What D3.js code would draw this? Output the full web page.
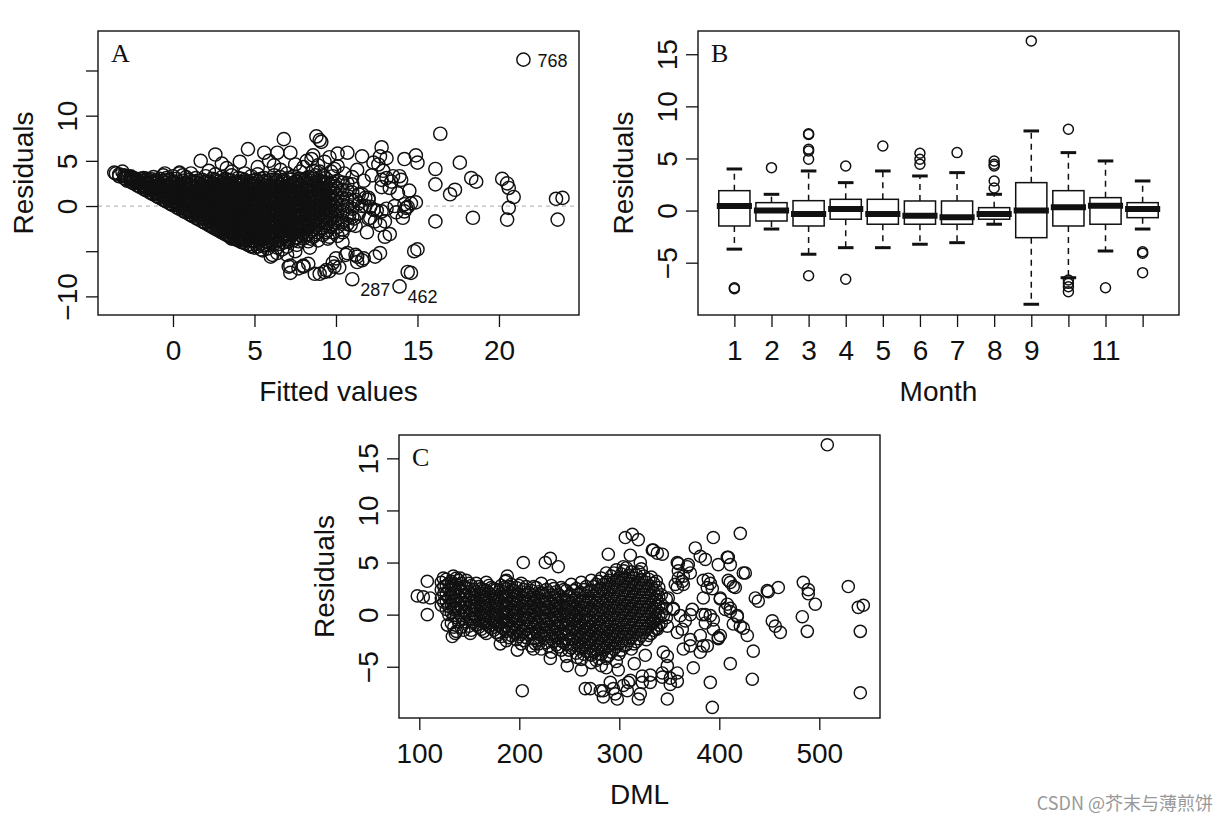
<!DOCTYPE html>
<html><head><meta charset="utf-8">
<script src="https://cdn.jsdelivr.net/npm/d3@7"></script>
<style>body{margin:0;background:#fff;} svg{display:block;}</style>
</head><body>
<svg id="chart" width="1228" height="824"></svg>
<script>
// ---------------- DATA ----------------
// Panel A: fitted values vs residuals. Dense core given as columns [fitted, [residuals]]
const blobA = [
[-3.5,[3.6]],[-3.3,[3.3,3.5]],[-3.0,[3.1,3.4]],[-2.8,[2.8,3.2]],[-2.6,[2.7,3.0,3.3]],
[-2.4,[2.5,2.8,3.1]],[-2.2,[2.3,2.6,2.9]],[-2.0,[2.1,2.5,3.0]],[-1.8,[1.9,2.3,2.7,3.1]],
[-1.6,[1.7,2.0,2.6,3.0]],[-1.4,[1.5,1.9,2.3,2.8]],[-1.2,[1.3,1.7,2.2,2.7,3.2]],
[-1.0,[1.1,1.5,2.0,2.5,2.9]],[-0.8,[0.9,1.3,1.8,2.4,3.0]],[-0.6,[0.7,1.1,1.6,2.2,2.7,3.4]],
[-0.4,[0.5,0.9,1.4,2.0,2.6,3.1]],[-0.2,[0.3,0.8,1.3,1.7,2.3,2.9]],[0.0,[0.1,0.5,1.0,1.6,2.1,2.7,3.3]],
[0.2,[-0.1,0.4,0.9,1.4,2.0,2.5,3.0]],[0.4,[-0.3,0.2,0.7,1.2,1.8,2.4,3.6]],[0.6,[-0.5,0.0,0.5,1.1,1.6,2.2,2.8]],
[0.8,[-0.7,-0.2,0.3,0.9,1.5,2.0,2.6,3.2]],[1.0,[-0.9,-0.4,0.1,0.6,1.2,1.8,2.4,2.9]],
[1.2,[-1.1,-0.6,-0.1,0.4,1.0,1.6,2.2,2.7]],[1.4,[-1.3,-0.8,-0.3,0.3,0.9,1.4,2.0,2.6,3.1]],
[1.6,[-1.5,-1.0,-0.5,0.1,0.7,1.3,1.9,2.5]],[1.8,[-1.7,-1.2,-0.6,-0.1,0.5,1.1,1.7,2.3,2.9]],
[2.0,[-1.9,-1.4,-0.9,-0.3,0.3,0.9,1.5,2.1,2.7,3.3]],[2.2,[-2.1,-1.6,-1.0,-0.5,0.1,0.7,1.3,1.9,2.5]],
[2.4,[-2.3,-1.8,-1.2,-0.6,0.0,0.6,1.2,1.8,2.4,3.0]],[2.6,[-2.5,-2.0,-1.4,-0.8,-0.2,0.4,1.0,1.6,2.3,2.9,3.5]],
[2.8,[-2.7,-2.2,-1.6,-1.0,-0.4,0.3,0.9,1.5,2.1,2.7]],[3.0,[-2.9,-2.3,-1.7,-1.1,-0.5,0.1,0.7,1.4,2.0,2.6,3.2]],
[3.2,[-3.1,-2.5,-1.9,-1.3,-0.7,-0.1,0.5,1.2,1.8,2.4,3.0]],[3.4,[-3.3,-2.7,-2.1,-1.5,-0.9,-0.3,0.4,1.0,1.6,2.3,2.9]],
[3.6,[-3.5,-2.9,-2.2,-1.6,-1.0,-0.4,0.2,0.8,1.5,2.1,2.8,3.4]],[3.8,[-3.6,-3.0,-2.4,-1.8,-1.2,-0.6,0.1,0.7,1.3,2.0,2.6]],
[4.0,[-3.8,-3.2,-2.6,-2.0,-1.3,-0.7,-0.1,0.5,1.2,1.8,2.5,3.1]],[4.2,[-4.0,-3.3,-2.7,-2.1,-1.5,-0.9,-0.2,0.4,1.0,1.7,2.3,3.0]],
[4.4,[-4.1,-3.5,-2.9,-2.2,-1.6,-1.0,-0.4,0.3,0.9,1.5,2.2,2.9,3.6]],[4.6,[-4.3,-3.6,-3.0,-2.4,-1.7,-1.1,-0.5,0.1,0.8,1.4,2.0,2.7]],
[4.8,[-4.4,-3.8,-3.1,-2.5,-1.9,-1.2,-0.6,0.0,0.6,1.3,1.9,2.6,3.3]],[5.0,[-4.6,-3.9,-3.3,-2.6,-2.0,-1.4,-0.7,-0.1,0.5,1.2,1.8,2.5]],
[5.2,[-4.5,-3.8,-3.2,-2.5,-1.9,-1.3,-0.6,0.0,0.7,1.3,2.0,2.7,3.5]],[5.4,[-4.8,-4.1,-3.4,-2.8,-2.1,-1.5,-0.8,-0.2,0.4,1.1,1.7,2.4,3.0]],
[5.6,[-4.3,-3.6,-2.9,-2.3,-1.6,-0.9,-0.3,0.3,1.0,1.6,2.3,3.1]],[5.8,[-4.7,-4.0,-3.3,-2.6,-2.0,-1.3,-0.7,0.0,0.6,1.3,1.9,2.6]],
[6.0,[-3.8,-3.1,-2.4,-1.8,-1.1,-0.4,0.2,0.9,1.5,2.2,2.9]],[6.2,[-4.2,-3.5,-2.8,-2.2,-1.5,-0.8,-0.2,0.5,1.2,1.8,2.5,3.4]],
[6.4,[-4.6,-3.9,-3.2,-2.5,-1.9,-1.2,-0.5,0.1,0.8,1.4,2.1,2.8]],[6.6,[-3.7,-3.0,-2.3,-1.6,-0.9,-0.3,0.4,1.0,1.7,2.4,3.2,4.0]],
[6.8,[-4.0,-3.3,-2.6,-1.9,-1.2,-0.5,0.2,0.8,1.5,2.2,2.9]],[7.0,[-4.5,-3.7,-3.0,-2.3,-1.6,-0.9,-0.2,0.5,1.1,1.8,2.5,3.6]],
[7.2,[-3.4,-2.7,-2.0,-1.3,-0.6,0.1,0.8,1.4,2.1,2.9]],[7.4,[-3.8,-3.1,-2.4,-1.7,-1.0,-0.3,0.3,1.0,1.7,2.4,3.3]],
[7.6,[-4.3,-3.5,-2.8,-2.1,-1.4,-0.7,0.0,0.7,1.3,2.0,2.7]],[7.8,[-3.2,-2.5,-1.8,-1.1,-0.4,0.3,1.0,1.6,2.3,3.0,3.8]],
[8.0,[-3.6,-2.9,-2.2,-1.5,-0.8,-0.1,0.6,1.2,1.9,2.6]],[8.3,[-3.9,-3.1,-2.4,-1.6,-0.9,-0.2,0.5,1.1,1.8,2.5,3.2]],
[8.6,[-3.4,-2.6,-1.9,-1.1,-0.4,0.3,1.0,1.7,2.3,3.0,3.9]],[8.9,[-3.8,-2.9,-2.1,-1.3,-0.6,0.1,0.8,1.5,2.2,2.9]],
[9.2,[-3.2,-2.4,-1.6,-0.8,-0.1,0.6,1.3,2.0,2.7,3.4]],[9.5,[-3.6,-2.7,-1.9,-1.0,-0.3,0.4,1.1,1.9,2.6]],
[9.8,[-2.9,-2.1,-1.3,-0.5,0.2,0.9,1.7,2.5,3.3]],[10.1,[-3.3,-2.3,-1.4,-0.6,0.3,1.1,1.9,2.8]],
[10.4,[-2.6,-1.6,-0.7,0.1,0.9,1.8,2.6]],[10.7,[-2.0,-0.9,0.0,0.8,1.7,2.5]],
[11.0,[-1.2,-0.3,0.6,1.5,2.4]],[11.4,[-0.8,0.3,1.3]],[11.8,[0.0,0.9]]
];
// Panel A: second layer of the dense core (points lying between the first layer)
const blobA2 = [
[-2.9,[3.0,3.3]],[-2.5,[2.6,2.95]],[-2.1,[2.2,2.7]],[-1.7,[1.8,2.2,2.5,2.85]],
[-1.3,[1.4,1.8,2.1,2.5,2.95]],[-0.9,[1.0,1.4,1.7,2.2,2.7]],[-0.5,[0.6,1.0,1.2,1.7,2.3,2.85]],
[-0.1,[0.2,0.6,1.1,1.5,1.9,2.5]],[0.3,[-0.2,0.1,0.5,1.0,1.5,2.1,2.7]],[0.7,[-0.6,-0.3,0.2,0.8,1.3,1.9,2.5]],
[1.1,[-1.0,-0.6,-0.2,0.3,0.8,1.4,2.0,2.6]],[1.5,[-1.4,-1.0,-0.6,-0.1,0.5,1.1,1.6,2.2,2.8]],
[1.9,[-1.8,-1.3,-0.8,-0.4,0.1,0.7,1.3,1.9,2.5]],[2.3,[-2.2,-1.7,-1.3,-0.8,-0.3,0.3,0.9,1.5,2.1,2.7]],
[2.5,[-2.4,-1.5,-0.3,0.8,1.9]],[2.7,[-2.6,-2.1,-1.7,-1.2,-0.6,-0.1,0.5,1.2,1.8,2.4]],
[2.9,[-2.8,-1.9,-0.7,0.5,1.7]],[3.1,[-3.0,-2.6,-2.0,-1.5,-0.9,-0.3,0.3,1.0,1.6,2.2,2.8]],
[3.3,[-3.2,-2.3,-1.1,0.1,1.4]],[3.5,[-3.4,-2.8,-2.4,-1.8,-1.3,-0.7,-0.1,0.6,1.2,1.9,2.5]],
[3.7,[-3.3,-2.0,-0.8,0.4,1.7]],[3.9,[-3.7,-3.3,-2.7,-2.1,-1.5,-0.9,-0.3,0.3,1.0,1.6,2.3]],
[4.1,[-3.5,-2.3,-1.1,0.2,1.5,2.7]],[4.3,[-4.0,-3.7,-3.1,-2.5,-1.9,-1.3,-0.6,0.0,0.7,1.3,2.0,2.6]],
[4.5,[-3.8,-2.6,-1.4,-0.2,1.1,2.4]],[4.7,[-4.2,-3.4,-2.8,-2.2,-1.5,-0.9,-0.3,0.4,1.0,1.7,2.3]],
[4.9,[-3.5,-2.3,-1.0,0.3,1.5,2.8]],[5.1,[-4.2,-3.6,-2.9,-2.3,-1.7,-1.0,-0.4,0.2,0.9,1.5,2.2,2.9]],
[5.3,[-3.9,-2.6,-1.2,0.1,1.5]],[5.5,[-4.4,-3.7,-3.1,-2.4,-1.8,-1.2,-0.5,0.1,0.7,1.4,2.0,2.7]],
[5.7,[-3.9,-2.6,-1.3,0.1,1.4,2.8]],[5.9,[-4.3,-3.5,-2.9,-2.2,-1.6,-0.9,-0.3,0.3,1.0,1.6,2.3]],
[6.1,[-3.4,-2.1,-0.8,0.5,1.8]],[6.3,[-3.8,-3.1,-2.4,-1.7,-1.1,-0.4,0.3,0.9,1.6,2.2,2.9]],
[6.5,[-4.2,-2.9,-1.5,-0.2,1.1,2.4]],[6.7,[-3.5,-2.8,-2.1,-1.4,-0.7,0.0,0.6,1.3,2.0,2.7]],
[6.9,[-3.3,-1.9,-0.6,0.7,2.0]],[7.1,[-3.9,-3.2,-2.5,-1.8,-1.1,-0.4,0.3,0.9,1.6,2.3,3.1]],
[7.3,[-3.0,-1.6,-0.2,1.1,2.5]],[7.5,[-3.5,-2.8,-2.1,-1.4,-0.7,0.0,0.7,1.3,2.0,2.7]],
[7.7,[-3.9,-2.5,-1.1,0.3,1.6,3.0]],[7.9,[-3.3,-2.6,-1.9,-1.2,-0.5,0.2,0.9,1.5,2.2,2.9]],
[8.15,[-3.2,-2.5,-1.8,-1.1,-0.4,0.3,1.0,1.6,2.3,3.0]],[8.45,[-3.6,-2.8,-2.1,-1.4,-0.7,0.0,0.7,1.4,2.1,2.8]],
[8.75,[-3.1,-2.3,-1.6,-0.9,-0.2,0.5,1.2,1.9,2.6,3.4]],[9.05,[-2.6,-1.8,-1.0,-0.3,0.4,1.1,1.8,2.5]],
[9.35,[-2.9,-2.1,-1.3,-0.5,0.3,1.0,1.7,2.4,3.1]],[9.65,[-2.3,-1.5,-0.7,0.1,0.8,1.5,2.3]],
[9.95,[-1.8,-1.0,-0.2,0.6,1.4,2.2]]
];
// Panel A: scattered points [fitted, residual]
const outerA = [
[21.5,16.2],[16.4,8.0],[17.6,4.8],[18.3,3.1],[18.6,2.7],[20.2,3.0],[20.5,2.5],[20.6,2.0],[20.9,1.0],
[20.6,-0.2],[20.5,-1.5],[18.4,-1.3],[16.1,-1.7],[16.1,2.4],[16.1,4.1],[17.0,1.3],[17.3,1.8],
[23.5,0.8],[23.9,0.9],[23.6,-1.5],[15.0,-4.8],[14.6,-7.4],[13.9,-8.9],[11.0,-8.1],[12.7,-5.2],
[13.3,-3.1],[13.0,-1.7],[14.1,-1.3],[14.2,-0.6],[14.4,-0.1],[14.6,0.3],[14.9,0.4],[14.5,1.7],
[14.0,2.9],[13.9,3.3],[14.2,5.2],[14.9,5.6],[15.0,4.8],[12.8,6.5],[12.7,5.5],[13.1,5.3],[12.3,4.8],
[12.6,4.6],[12.9,3.9],[12.8,2.1],[13.5,3.3],[13.3,2.0],[12.1,-0.1],[12.3,-0.4],[12.5,-0.5],[13.1,-0.3],
[11.6,5.5],[10.7,5.9],[10.1,5.8],[9.6,5.4],[9.3,4.9],[9.0,3.8],[8.8,7.7],[9.0,7.3],[9.1,7.1],
[6.8,7.4],[8.2,5.0],[8.5,5.2],[8.6,5.6],[7.2,5.9],[6.4,5.9],[5.6,5.9],[4.6,6.3],[2.6,5.7],[1.7,5.0],
[3.0,4.7],[3.6,3.8],[-0.5,3.6],[0.4,3.7],[0.6,3.4],[-3.6,3.7],[-3.1,3.8],[-2.6,3.2],[-1.8,3.0],[-0.9,2.7],
[10.0,-5.8],[9.9,-6.7],[9.3,-7.3],[9.0,-7.5],[9.6,-7.2],[8.3,-6.4],[8.0,-6.6],[7.7,-6.9],[7.2,-6.6],
[11.3,-6.2],[11.7,-5.8],[11.2,-5.4],[10.6,-5.4],[6.1,-5.4],[6.4,-5.2],[7.0,-5.4],[10.4,-4.0],
[9.6,-3.4],[10.9,-2.1],[11.1,-1.4],[10.4,-1.8],[12.1,-1.3],[12.4,-1.7],[11.9,-2.9],
[3.6,-3.6],[4.8,-4.5],[6.0,-5.6],[7.1,-6.7],[7.2,-7.4],[5.5,-4.9],[6.7,-4.8],[7.5,-5.0],[8.4,-4.6],
[12.8,2.9],[13.1,3.1],[13.4,2.7],[13.8,1.4],[13.6,0.0],[13.7,-0.7],[14.2,0.2],[14.3,-0.2],
[11.6,1.3],[12.0,0.9],[12.8,-0.6],[12.7,-2.1],[13.0,-3.4],[12.4,-5.6],[14.8,-5.0],[14.4,-7.3],
[10.7,-5.2],[11.3,-5.6],[11.6,-6.0],[9.8,-6.3],[9.4,-7.1],[10.2,-6.8],[8.7,-7.5],[8.0,-6.7],
[11.2,0.7],[11.6,0.0],[12.0,0.7],[10.8,-1.1],[11.2,-2.2],[10.4,-2.9],[12.0,-1.4],
[10.1,4.4],[10.5,3.6],[11.0,3.2],[11.3,4.0],[9.9,4.1],[8.0,4.3],[7.5,4.6],[6.2,4.5],[5.2,4.3],
[4.1,4.9],[3.3,4.2],[2.2,3.9],[1.1,3.6],[5.9,5.0],[8.9,4.5],[9.7,3.8],[11.7,2.8],[12.2,3.4]
];
const labelIdsA = ["768","287","462"];
const labelPtsA = [[21.5,16.2],[11.0,-8.1],[13.9,-8.9]];
const fittedTicks = [0,5,10,15,20];
const residTicksA = [-10,-5,0,5,10,15];
const residLabelsA = ["\u221210","","0","5","10",""];

// Panel B: monthly boxplot statistics
const months = [1,2,3,4,5,6,7,8,9,10,11,12];
const monthLabels = ["1","2","3","4","5","6","7","8","9","","11",""];
const whiskLo = [-3.7,-1.77,-4.19,-3.56,-3.56,-3.23,-3.08,-1.31,-8.99,-6.44,-3.88,-1.77];
const q1 = [-1.48,-1.0,-1.48,-0.83,-1.31,-1.31,-1.31,-0.83,-2.6,-1.48,-1.31,-0.68];
const med = [0.44,0.0,-0.33,0.15,-0.33,-0.49,-0.64,-0.33,0.0,0.32,0.47,0.15];
const q3 = [1.91,0.76,0.95,1.08,1.08,0.92,0.92,0.28,2.68,1.91,1.24,0.76];
const whiskHi = [3.99,1.56,3.8,2.68,3.8,3.32,3.64,1.56,7.64,5.56,4.76,2.84];
const outliersB = [[1,-7.4],[1,-7.5],[2,4.12],[3,7.3],[3,7.36],[3,5.88],[3,5.72],[3,4.92],[3,-6.25],
[4,4.28],[4,-6.59],[5,6.2],[6,5.5],[6,4.92],[6,4.44],[7,5.56],[8,4.76],[8,4.45],[8,4.28],[8,2.84],[8,2.17],
[9,16.28],[10,7.8],[10,-6.66],[10,-6.98],[10,-7.3],[10,-7.78],[11,-7.4],[12,-3.95],[12,-4.1],[12,-5.96]];
const residTicksB = [-5,0,5,10,15];
const residLabelsB = ["\u22125","0","5","10","15"];

// Panel C: DML vs residuals. Dense core columns [DML, [residuals]]
const blobC = [
[122,[0.9,1.6,2.4,3.1]],[127,[0.5,1.3,2.0,2.8,3.4]],[132,[-0.8,0.2,1.0,1.7,2.5,3.2]],
[137,[-1.6,-0.3,0.6,1.4,2.2,2.9,3.5]],[142,[-1.2,-0.1,0.7,1.5,2.3,3.0]],[147,[-0.7,0.2,1.0,1.8,2.6,3.3]],
[152,[-1.5,-0.4,0.4,1.2,2.0,2.8]],[157,[-1.0,-0.2,0.6,1.4,2.2,3.0]],[162,[-1.4,-0.6,0.2,1.0,1.8,2.5]],
[167,[-1.8,-0.9,-0.1,0.7,1.5,2.3,3.1]],[172,[-1.3,-0.5,0.3,1.1,1.9,2.6]],[177,[-1.7,-0.8,0.0,0.8,1.6,2.4]],
[182,[-2.1,-1.2,-0.4,0.4,1.2,2.0,2.8]],[187,[-2.5,-1.6,-0.7,0.1,0.9,1.7,2.5,3.3]],
[192,[-2.0,-1.1,-0.3,0.5,1.3,2.1,2.9]],[197,[-2.4,-1.5,-0.6,0.2,1.0,1.8,2.6]],
[202,[-2.8,-1.9,-1.0,-0.2,0.6,1.4,2.2,3.0]],[207,[-2.2,-1.4,-0.5,0.3,1.1,1.9,2.7]],
[212,[-3.0,-1.8,-0.9,-0.1,0.7,1.5,2.3]],[217,[-2.5,-1.6,-0.7,0.1,0.9,1.7,2.6]],
[222,[-3.3,-2.0,-1.2,-0.3,0.5,1.3,2.1,3.0]],[227,[-2.7,-1.8,-0.9,-0.1,0.7,1.5,2.4]],
[232,[-3.6,-2.3,-1.4,-0.5,0.3,1.1,1.9,2.8]],[237,[-2.9,-2.0,-1.1,-0.2,0.6,1.4,2.2]],
[242,[-3.4,-2.5,-1.6,-0.7,0.1,0.9,1.7,2.6]],[247,[-4.0,-2.8,-1.9,-1.0,-0.2,0.6,1.4,2.3]],
[252,[-3.2,-2.3,-1.4,-0.5,0.3,1.1,1.9,2.9]],[257,[-3.7,-2.7,-1.8,-0.9,-0.1,0.7,1.6,2.5]],
[262,[-4.3,-3.1,-2.2,-1.3,-0.4,0.4,1.2,2.1,3.1]],[267,[-3.5,-2.6,-1.7,-0.8,0.0,0.9,1.8,2.7]],
[272,[-4.6,-3.9,-3.0,-2.1,-1.2,-0.3,0.5,1.4,2.3,3.3]],[277,[-3.4,-2.5,-1.6,-0.7,0.2,1.1,2.0,2.9]],
[282,[-4.9,-3.8,-2.9,-2.0,-1.1,-0.2,0.7,1.6,2.5,3.5]],[287,[-4.2,-3.2,-2.3,-1.4,-0.5,0.4,1.3,2.2,3.1,4.0]],
[292,[-3.6,-2.7,-1.8,-0.9,0.0,0.9,1.8,2.7,3.7]],[297,[-4.5,-3.1,-2.1,-1.2,-0.3,0.6,1.5,2.4,3.3,4.3]],
[302,[-3.4,-2.5,-1.6,-0.6,0.3,1.2,2.1,3.0,3.9]],[307,[-2.9,-1.9,-1.0,-0.1,0.8,1.7,2.6,3.5,4.5]],
[312,[-3.3,-2.2,-1.3,-0.4,0.5,1.4,2.3,3.2,4.1]],[317,[-2.6,-1.7,-0.8,0.1,1.0,1.9,2.8,3.8]],
[322,[-2.0,-1.1,-0.2,0.7,1.6,2.5,3.4,4.4]],[327,[-2.4,-1.4,-0.5,0.4,1.3,2.2,3.1]],
[332,[-1.8,-0.9,0.0,0.9,1.8,2.7,3.6]],[337,[-1.3,-0.4,0.5,1.4,2.3,3.2]],
[342,[-0.8,0.1,1.0,1.9]],[347,[-0.3,0.6,1.5]]
];
// Panel C: second layer of the dense core
const blobC2 = [
[124.5,[1.2,2.0,2.7]],[129.5,[0.0,0.8,1.6,2.4,3.0]],[134.5,[-1.2,-0.1,0.5,1.3,2.0,2.8]],
[139.5,[-0.7,0.2,1.0,1.8,2.6,3.3]],[144.5,[-1.5,-0.4,0.3,1.1,1.9,2.7]],[149.5,[-1.1,-0.2,0.6,1.4,2.2,3.0]],
[154.5,[-0.7,0.0,0.8,1.6,2.4]],[159.5,[-1.2,-0.4,0.4,1.2,2.0,2.7]],[164.5,[-1.6,-0.8,0.0,0.8,1.6,2.4]],
[169.5,[-1.1,-0.3,0.5,1.3,2.1,2.8]],[174.5,[-1.5,-0.7,0.1,0.9,1.7,2.5]],[179.5,[-1.9,-1.0,-0.2,0.6,1.4,2.2]],
[184.5,[-1.4,-0.6,0.2,1.0,1.8,2.6]],[189.5,[-2.2,-1.3,-0.5,0.3,1.1,1.9,2.7]],[194.5,[-1.7,-0.9,-0.1,0.7,1.5,2.3]],
[199.5,[-2.1,-1.2,-0.4,0.4,1.2,2.0,2.8]],[204.5,[-2.5,-1.6,-0.8,0.0,0.8,1.6,2.4]],[209.5,[-1.9,-1.1,-0.3,0.5,1.3,2.1]],
[214.5,[-2.3,-1.4,-0.5,0.3,1.1,1.9,2.7]],[219.5,[-2.8,-1.9,-1.0,-0.2,0.6,1.4,2.2]],[224.5,[-2.3,-1.5,-0.6,0.2,1.0,1.8]],
[229.5,[-3.0,-2.1,-1.2,-0.4,0.4,1.2,2.1]],[234.5,[-2.6,-1.7,-0.8,0.0,0.8,1.6,2.5]],[239.5,[-3.1,-2.2,-1.3,-0.5,0.3,1.1,1.9]],
[244.5,[-2.7,-1.8,-0.9,-0.1,0.7,1.5,2.4]],[249.5,[-3.4,-2.4,-1.5,-0.6,0.2,1.0,1.8]],[254.5,[-2.9,-2.0,-1.1,-0.2,0.6,1.4,2.3]],
[259.5,[-3.3,-2.4,-1.5,-0.6,0.2,1.0,1.9]],[264.5,[-3.8,-2.9,-2.0,-1.1,-0.2,0.6,1.4,2.4]],[269.5,[-3.2,-2.3,-1.4,-0.5,0.4,1.3,2.2]],
[274.5,[-3.6,-2.7,-1.8,-0.9,0.0,0.9,1.8,2.7]],[279.5,[-4.2,-3.1,-2.2,-1.3,-0.4,0.5,1.4,2.3,3.2]],
[284.5,[-3.4,-2.5,-1.6,-0.7,0.2,1.1,2.0,2.9]],[289.5,[-3.9,-3.0,-2.1,-1.2,-0.3,0.6,1.5,2.4,3.3]],
[294.5,[-3.3,-2.4,-1.5,-0.5,0.4,1.3,2.2,3.1,4.0]],[299.5,[-3.8,-2.8,-1.9,-1.0,-0.1,0.8,1.7,2.6,3.5]],
[304.5,[-3.0,-2.1,-1.2,-0.3,0.6,1.5,2.4,3.3,4.2]],[309.5,[-2.5,-1.6,-0.7,0.2,1.1,2.0,2.9,3.8]],
[314.5,[-2.8,-1.9,-1.0,-0.1,0.8,1.7,2.6,3.5]],[319.5,[-2.3,-1.4,-0.5,0.4,1.3,2.2,3.1,4.1]],
[324.5,[-1.7,-0.8,0.1,1.0,1.9,2.8,3.7]],[329.5,[-2.0,-1.1,-0.2,0.7,1.6,2.5,3.4]],
[334.5,[-1.5,-0.6,0.3,1.2,2.1,3.0]],[339.5,[-1.0,-0.1,0.8,1.7,2.6]]
];
// Panel C: scattered points [DML, residual]
const outerC = [
[508,16.3],[421,7.8],[394,7.4],[376,6.4],[313,7.7],[319,7.2],[306,7.4],[289,5.8],[338,5.9],[343,5.8],
[333,6.2],[381,5.6],[386,5.3],[408,5.5],[411,4.8],[424,4.0],[399,4.8],[359,4.9],[368,4.6],[371,4.0],
[363,3.2],[358,2.6],[389,3.4],[388,2.6],[393,2.5],[409,3.3],[414,2.7],[436,1.6],[439,1.3],[448,2.3],
[459,2.6],[453,-0.6],[456,-1.1],[461,-1.7],[401,1.6],[408,1.0],[411,0.6],[418,-0.2],[424,-1.3],[428,-2.0],
[434,-3.5],[411,-4.7],[433,-6.2],[391,-6.5],[393,-8.9],[348,-8.1],[374,-5.1],[388,-3.0],[381,-3.6],
[364,-3.3],[348,-4.0],[323,-5.9],[311,-6.3],[304,-6.8],[321,-7.6],[296,-7.6],[284,-7.3],[358,-5.6],
[351,-6.1],[343,-5.6],[331,-5.8],[363,-1.4],[371,-2.4],[384,-3.0],[401,-2.0],[414,-0.9],[386,0.0],
[394,-0.5],[384,1.6],[349,1.6],[354,0.6],[356,2.9],[359,3.5],
[484,3.1],[489,2.4],[489,2.0],[496,1.0],[483,-0.2],[488,-1.6],[529,2.7],[539,0.7],[544,0.9],[541,-1.6],
[541,-7.5],[449,2.2],
[204,5.0],[231,5.4],[226,5.0],[239,4.6],[188,3.7],[186,3.2],[108,3.2],[124,3.5],[134,3.7],[141,3.5],
[98,1.8],[104,1.7],[111,1.6],[108,0.0],[128,-1.0],[133,-2.1],[136,-1.8],[151,-1.8],[203,-7.3],
[181,-2.8],[198,-3.4],[214,-3.3],[216,-2.8],[231,-4.2],[248,-4.9],[258,-4.1],[271,-3.8],[266,-7.1],
[271,-7.1],[281,-7.3],[284,-7.9],[298,-8.1],[319,-8.1],[308,-7.3],[309,-6.5],[291,-6.5],[294,-7.1],
[323,-6.5],[331,-6.5],[343,-6.0],[351,-6.7],[358,-6.4],[348,-4.9],[344,-3.6],[371,-3.0],[399,-2.3],
[304,4.6],[311,5.7],[321,5.0],[334,6.2],[358,5.0],[369,4.8],[359,4.2],[364,3.7],[364,2.9],[409,5.5],
[426,4.0],[384,3.3],[391,3.0],[411,3.1],[416,2.6],
[354,0.5],[361,-0.1],[366,-0.6],[371,0.0],[373,0.5],[383,0.0],[386,-0.8],[391,-0.1],[401,1.5],
[406,0.5],[411,0.3],[418,-0.1],[421,-1.1],[394,-1.4],[399,-2.2],[381,-2.0],[358,-1.7],[344,-0.1],
[348,-1.1],[338,-1.4],[334,-0.8],[277,-4.4],[287,-5.1],[299,-5.3],[315,-4.7],[326,-3.9],[262,-5.3]
];
const dmlTicks = [100,200,300,400,500];
const residTicksC = [-5,0,5,10,15];
const residLabelsC = ["\u22125","0","5","10","15"];

// ---------------- DRAWING ----------------
const SANS = "'Liberation Sans', Arial, Helvetica, sans-serif";
const SERIF = "'Liberation Serif', 'Times New Roman', serif";
const INK = "#111";
const svg = d3.select("#chart");
svg.append("rect").attr("width",1228).attr("height",824).attr("fill","#fff");

function frame(b){
  svg.append("rect").attr("x",b.l).attr("y",b.t).attr("width",b.r-b.l).attr("height",b.b-b.t)
    .attr("fill","none").attr("stroke",INK).attr("stroke-width",1.4);
}
function yAxis(scale, vals, labs, b){
  const a = svg.append("g").attr("transform",`translate(${b.l},0)`)
    .call(d3.axisLeft(scale).tickValues(vals).tickSize(12).tickSizeOuter(0).tickFormat((d,i)=>labs[i]));
  a.select(".domain").remove();
  a.attr("font-family",SANS).attr("font-size",28);
  a.selectAll(".tick line").attr("stroke",INK).attr("stroke-width",1.3);
  a.selectAll(".tick text").attr("x",0).attr("dy",0).attr("fill",INK)
    .attr("text-anchor","middle").attr("transform","translate(-21,0) rotate(-90)");
}
function xAxis(scale, vals, labs, b){
  const a = svg.append("g").attr("transform",`translate(0,${b.b})`)
    .call(d3.axisBottom(scale).tickValues(vals).tickSize(12).tickSizeOuter(0).tickFormat((d,i)=>labs[i]));
  a.select(".domain").remove();
  a.attr("font-family",SANS).attr("font-size",28);
  a.selectAll(".tick line").attr("stroke",INK).attr("stroke-width",1.3);
  a.selectAll(".tick text").attr("y",45).attr("dy",0).attr("fill",INK);
}
function titles(b, xt, yt, letter){
  svg.append("text").attr("x",(b.l+b.r)/2).attr("y",b.b+86).attr("text-anchor","middle")
    .attr("font-family",SANS).attr("font-size",28).attr("fill",INK).text(xt);
  svg.append("text").attr("transform",`translate(${b.l-65},${(b.t+b.b)/2}) rotate(-90)`)
    .attr("text-anchor","middle").attr("font-family",SANS).attr("font-size",28).attr("fill",INK).text(yt);
  svg.append("text").attr("x",b.l+13).attr("y",b.t+31).attr("font-family",SERIF)
    .attr("font-size",26).attr("fill",INK).text(letter);
}
function flatten(cols){ const out=[]; cols.forEach(c=>c[1].forEach(r=>out.push([c[0],r]))); return out; }

// ---- Panel A ----
const bA = {l:98, r:579, t:31, b:315};
const xA = d3.scaleLinear().domain([-4.6,24.91]).range([bA.l,bA.r]);
const yA = d3.scaleLinear().domain([-12.06,19.37]).range([bA.b,bA.t]);
svg.append("line").attr("x1",bA.l).attr("x2",bA.r).attr("y1",yA(0)).attr("y2",yA(0))
  .attr("stroke","#bbb").attr("stroke-width",1.2).attr("stroke-dasharray","4,4");
const ptsA = flatten(blobA).concat(flatten(blobA2), outerA);
svg.append("g").selectAll("circle").data(ptsA).join("circle")
  .attr("cx",d=>xA(d[0])).attr("cy",d=>yA(d[1])).attr("r",6.6)
  .attr("fill","none").attr("stroke",INK).attr("stroke-width",1.45);
const labOff = [[14,7],[8,17],[8,17]];
svg.append("g").selectAll("text").data(labelPtsA).join("text")
  .attr("x",(d,i)=>xA(d[0])+labOff[i][0]).attr("y",(d,i)=>yA(d[1])+labOff[i][1])
  .attr("font-family",SANS).attr("font-size",18).attr("fill",INK).text((d,i)=>labelIdsA[i]);
frame(bA);
yAxis(yA, residTicksA, residLabelsA, bA);
xAxis(xA, fittedTicks, fittedTicks.map(String), bA);
titles(bA, "Fitted values", "Residuals", "A");

// ---- Panel B ----
const bB = {l:698, r:1179, t:31, b:315};
const xB = d3.scaleLinear().domain([0.02,12.98]).range([bB.l,bB.r]);
const yB = d3.scaleLinear().domain([-10.02,17.23]).range([bB.b,bB.t]);
const bw = xB(0.84)-xB(0);
const gB = svg.append("g");
months.forEach((m,i)=>{
  const cx = xB(m);
  gB.append("line").attr("x1",cx).attr("x2",cx).attr("y1",yB(q3[i])).attr("y2",yB(whiskHi[i]))
    .attr("stroke",INK).attr("stroke-width",1.5).attr("stroke-dasharray","6,5");
  gB.append("line").attr("x1",cx).attr("x2",cx).attr("y1",yB(q1[i])).attr("y2",yB(whiskLo[i]))
    .attr("stroke",INK).attr("stroke-width",1.5).attr("stroke-dasharray","6,5");
  gB.append("rect").attr("x",cx-bw/2).attr("width",bw).attr("y",yB(q3[i])).attr("height",yB(q1[i])-yB(q3[i]))
    .attr("fill","#fff").attr("stroke",INK).attr("stroke-width",1.5);
  gB.append("line").attr("x1",cx-bw/2-2).attr("x2",cx+bw/2+2).attr("y1",yB(med[i])).attr("y2",yB(med[i]))
    .attr("stroke",INK).attr("stroke-width",6);
  [whiskHi[i],whiskLo[i]].forEach(v=>{
    gB.append("line").attr("x1",cx-bw/4).attr("x2",cx+bw/4).attr("y1",yB(v)).attr("y2",yB(v))
      .attr("stroke",INK).attr("stroke-width",3);
  });
});
gB.selectAll("circle.o").data(outliersB).join("circle").attr("class","o")
  .attr("cx",d=>xB(d[0])).attr("cy",d=>yB(d[1])).attr("r",5)
  .attr("fill","none").attr("stroke",INK).attr("stroke-width",1.5);
frame(bB);
yAxis(yB, residTicksB, residLabelsB, bB);
xAxis(xB, months, monthLabels, bB);
titles(bB, "Month", "Residuals", "B");

// ---- Panel C ----
const bC = {l:399, r:880, t:435, b:718};
const xC = d3.scaleLinear().domain([79.7,560.7]).range([bC.l,bC.r]);
const yC = d3.scaleLinear().domain([-9.92,17.24]).range([bC.b,bC.t]);
const ptsC = flatten(blobC).concat(flatten(blobC2), outerC);
svg.append("g").selectAll("circle").data(ptsC).join("circle")
  .attr("cx",d=>xC(d[0])).attr("cy",d=>yC(d[1])).attr("r",6.1)
  .attr("fill","none").attr("stroke",INK).attr("stroke-width",1.45);
frame(bC);
yAxis(yC, residTicksC, residLabelsC, bC);
xAxis(xC, dmlTicks, dmlTicks.map(String), bC);
titles(bC, "DML", "Residuals", "C");

// watermark
svg.append("text").attr("x",1213).attr("y",810).attr("text-anchor","end")
  .attr("font-family","'Noto Sans CJK SC', 'Noto Sans', sans-serif").attr("font-size",18)
  .attr("fill","#999").text("CSDN @芥末与薄煎饼");
</script>
</body></html>
